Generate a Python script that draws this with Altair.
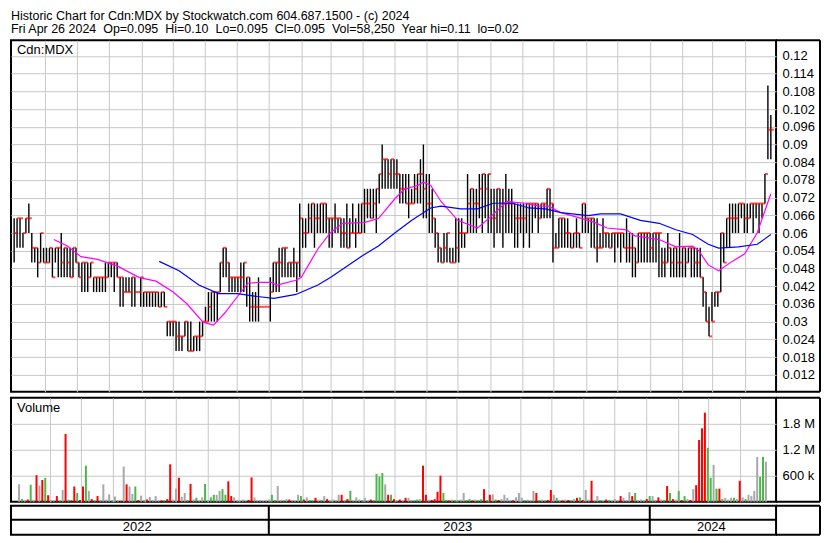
import altair as alt
import pandas as pd

FONT = "Liberation Sans"
GRID = "#c8c8c8"

TITLE_LINE1 = "Historic Chart for Cdn:MDX by Stockwatch.com 604.687.1500 - (c) 2024"
TITLE_LINE2 = ("Fri Apr 26 2024\u00a0\u00a0Op=0.095\u00a0\u00a0Hi=0.10\u00a0\u00a0Lo=0.095"
               "\u00a0\u00a0Cl=0.095\u00a0\u00a0Vol=58,250\u00a0\u00a0Year hi=0.11\u00a0\u00a0lo=0.02")

FIRST_BAR = "2022-05-02"
LAST_BAR = "2024-04-26"

# price bars, in thousandths of a dollar (one entry per ~2 trading days)
HI = [65,65,65,60,65,70,60,55,55,60, 55,55,55,55,55,55,60,55,55,55,
      55,55,50,50,50,50,50,45,45,45, 45,50,50,50,50,50,45,45,45,45,
      45,45,40,45,40,40,40,40,40,40, 40,40,30,30,30,30,30,25,30,30,
      30,25,25,30,30,35,40,40,40,40, 50,55,55,50,45,45,45,50,50,45,
      45,40,40,45,35,35,35,45,50,50, 55,55,55,50,50,55,50,70,65,65,
      70,70,70,70,70,70,70,65,65,70, 65,65,65,70,65,70,65,70,70,75,
      75,75,75,75,80,90,85,85,85,85, 85,80,80,80,80,75,80,80,85,90,
      80,80,75,65,60,55,60,60,55,55, 65,65,65,60,80,75,75,75,80,80,
      80,80,75,75,75,75,75,80,75,75, 70,70,70,70,70,70,70,70,70,70,
      70,75,75,70,60,65,65,65,65,60, 60,65,60,70,70,65,65,65,65,60,
      65,60,60,60,60,60,60,60,65,60, 60,55,60,60,60,60,60,60,60,60,
      55,55,60,55,55,55,60,55,55,55, 55,55,55,55,45,40,35,40,40,40,
      60,60,65,70,70,70,70,70,70,70, 70,70,70,70,70,80,110,100]
LO = [50,55,55,55,60,60,50,50,45,50, 50,50,50,45,50,45,45,45,45,45,
      45,50,45,40,40,40,45,40,40,40, 40,40,45,45,40,45,35,35,40,40,
      35,35,40,35,35,35,35,35,35,35, 35,35,25,25,25,20,20,20,25,20,
      20,20,20,20,25,30,30,30,30,30, 40,45,45,40,40,40,40,40,40,35,
      30,30,30,30,35,35,35,30,40,40, 40,45,45,45,45,45,40,45,55,55,
      60,60,55,60,60,60,60,55,55,60, 60,55,55,55,55,60,55,60,60,60,
      65,65,65,60,70,75,75,75,75,75, 75,70,70,70,65,70,70,70,70,65,
      65,60,60,55,50,50,50,50,50,50, 50,50,55,55,60,60,60,60,65,60,
      65,60,60,55,60,60,55,60,60,60, 55,55,60,55,60,55,60,65,60,65,
      65,65,65,50,55,55,55,55,55,55, 55,55,55,60,60,60,55,55,50,55,
      55,55,55,55,50,55,50,55,50,50, 45,45,50,50,50,50,50,50,50,45,
      45,45,50,45,45,45,45,45,45,50, 45,45,45,45,35,30,25,30,35,35,
      40,50,55,55,60,60,60,65,60,60, 65,60,65,60,65,70,85,85]
CL = [60,65,65,60,65,65,55,55,50,60, 50,50,55,45,55,55,50,55,50,45,
      55,50,45,50,50,45,50,45,45,45, 45,45,50,50,50,45,45,40,40,40,
      45,40,40,45,40,40,40,40,40,35, 40,35,30,30,30,25,25,25,30,20,
      20,25,25,25,30,30,35,40,40,40, 50,55,50,45,45,45,45,45,50,45,
      35,35,35,35,35,35,35,40,50,50, 50,55,55,50,50,50,50,65,60,60,
      65,70,65,65,70,70,65,65,65,65, 65,60,60,55,60,60,60,60,70,70,
      70,65,70,75,80,85,85,80,85,80, 80,75,75,70,70,70,75,80,80,75,
      70,70,65,60,55,50,55,60,50,50, 55,60,60,60,70,75,70,70,75,80,
      75,80,65,65,75,70,70,70,70,70, 65,65,65,65,70,70,70,70,65,70,
      70,75,70,55,55,65,65,60,60,55, 60,60,55,70,65,65,65,55,55,55,
      60,60,55,60,60,60,60,55,55,55, 55,50,60,60,60,60,55,60,60,60,
      50,50,55,50,55,50,50,55,50,55, 55,50,50,45,40,30,25,30,40,40,
      60,50,65,65,65,65,70,70,65,65, 70,70,70,70,70,80,95,95]
# volume, thousands of shares
VOL_K = [400,60,30,50,390,40,610,370,500,550, 150,40,20,130,30,270,1560,50,30,350,
         200,40,350,830,250,60,30,130,40,400, 50,170,30,120,40,20,810,400,350,180,
         350,40,140,30,50,110,40,130,20,30, 40,60,860,50,300,550,110,200,40,410,
         50,90,30,100,410,40,100,160,160,250, 290,160,470,130,100,40,30,50,20,40,
         560,100,30,40,20,30,50,160,40,360, 40,30,60,50,40,30,160,130,50,100,
         40,30,90,50,40,130,60,30,50,40, 160,160,40,60,250,30,100,50,40,90,
         30,50,40,640,580,660,400,160,160,60, 40,50,30,90,90,40,30,50,60,830,
         160,50,40,60,230,600,200,40,30,50, 40,30,50,200,40,60,30,50,40,60,
         290,40,160,170,50,40,60,160,90,40, 30,100,200,90,40,50,30,250,200,40,
         50,30,40,270,160,90,40,30,50,40, 30,60,90,100,40,270,50,480,40,130,
         40,30,50,40,30,60,40,130,90,40, 220,130,200,40,50,30,60,130,130,40,
         100,50,40,360,200,60,50,250,40,130, 60,40,290,380,1420,1690,2050,1240,550,850,
         300,300,60,90,50,90,90,60,480,100, 60,160,130,250,1030,570,1030,920]

# moving averages (thousandths)
PINK_DATES = ["2022-06-09","2022-06-22","2022-07-05","2022-07-21","2022-08-09","2022-08-30",
              "2022-09-15","2022-10-01","2022-10-14","2022-10-30","2022-11-09","2022-11-20",
              "2022-12-02","2022-12-12","2022-12-23","2023-01-03","2023-01-09","2023-01-27",
              "2023-02-01","2023-02-17","2023-03-01","2023-03-13","2023-04-03","2023-04-16",
              "2023-05-02","2023-05-11","2023-05-24","2023-05-29","2023-06-05","2023-06-15",
              "2023-07-01","2023-07-20","2023-08-01","2023-08-17","2023-09-04","2023-09-17",
              "2023-09-26","2023-10-08","2023-10-24","2023-11-09","2023-11-21","2023-12-10",
              "2023-12-17","2024-01-10","2024-01-26","2024-02-11","2024-02-17","2024-02-26",
              "2024-03-07","2024-03-20","2024-04-01","2024-04-13","2024-04-26"]
PINK = [57.8,55.6,52.0,51.1,48.8,44.9,43.7,40.1,36.2,29.8,28.8,33.0,38.5,43.0,43.3,
        43.3,42.4,44.0,44.9,54.6,60.1,63.3,63.6,64.9,71.7,74.9,76.2,77.2,76.2,70.7,
        64.3,61.7,65.3,70.7,70.1,69.1,69.1,66.9,65.3,63.6,61.7,61.1,59.1,
        57.8,55.3,55.6,54.0,49.2,47.2,50.4,53.0,60.1,73.3]
BLUE_DATES = ["2022-09-18","2022-10-07","2022-10-26","2022-11-14","2022-12-02","2022-12-21",
              "2023-01-06","2023-01-27","2023-02-17","2023-03-01","2023-04-01","2023-04-16",
              "2023-05-02","2023-05-18","2023-06-05","2023-06-15","2023-07-04","2023-07-20",
              "2023-08-04","2023-08-23","2023-09-07","2023-09-23","2023-10-08","2023-11-03",
              "2023-11-15","2023-12-04","2023-12-23","2024-01-10","2024-01-26","2024-02-11",
              "2024-02-26","2024-03-07","2024-03-26","2024-04-13","2024-04-26"]
BLUE = [50.4,47.2,42.4,39.5,39.5,38.5,37.9,39.2,42.4,44.9,52.4,55.6,60.1,64.3,68.5,
        69.1,68.2,68.2,70.1,70.1,68.5,68.2,66.9,65.9,66.5,66.5,64.3,
        63.3,61.1,59.5,56.2,54.9,55.3,56.2,59.5]

PRICE_TICKS = [0.012,0.018,0.024,0.03,0.036,0.042,0.048,0.054,0.06,0.066,
               0.072,0.078,0.084,0.09,0.096,0.102,0.108,0.114,0.12]
VOL_TICKS = [600000, 1200000, 1800000]
# month gridline positions (year, month)
MONTH_GRID = [(2022, 6), (2022, 7), (2022, 8), (2022, 9), (2022, 10), (2022, 11), (2022, 12),
              (2023, 1), (2023, 2), (2023, 3), (2023, 4), (2023, 5), (2023, 6), (2023, 7),
              (2023, 8), (2023, 9), (2023, 10), (2023, 11), (2023, 12), (2024, 1), (2024, 2),
              (2024, 3), (2024, 4)]
YEAR_STARTS = ["2023-01-01", "2024-01-01"]
YEAR_LABELS = ["2022", "2023", "2024"]
YEAR_LABEL_DATES = ["2022-08-28", "2023-07-01", "2024-02-29"]

# ---------------------------------------------------------------- tables
dates = pd.date_range(FIRST_BAR, LAST_BAR, periods=len(HI))
bars = pd.DataFrame({
    "date": dates,
    "hi": [v / 1000 for v in HI],
    "lo": [v / 1000 for v in LO],
    "cl": [v / 1000 for v in CL],
    "vol": [v * 1000 for v in VOL_K],
})
prev = [CL[0]] + CL[:-1]
bars["dir"] = ["up" if c > p else ("down" if c < p else "flat") for c, p in zip(CL, prev)]

pink = pd.DataFrame({"date": pd.to_datetime(PINK_DATES), "v": [v / 1000 for v in PINK]})
blue = pd.DataFrame({"date": pd.to_datetime(BLUE_DATES), "v": [v / 1000 for v in BLUE]})

XSCALE = alt.Scale(domain=[alt.DateTime(year=2022, month=4, date=29),
                           alt.DateTime(year=2024, month=5, date=1)])
XAXIS = alt.Axis(title=None, labels=False, ticks=False, domain=False, grid=True,
                 gridColor=GRID, gridWidth=1, gridOpacity=1,
                 values=[alt.DateTime(year=y, month=m, date=1) for y, m in MONTH_GRID])
PSCALE = alt.Scale(domain=[0.0062, 0.1253], nice=False, zero=False)
PAXIS = alt.Axis(title=None, orient="right", values=PRICE_TICKS, format=".3~f",
                 ticks=False, domain=False, grid=True, gridColor=GRID, gridOpacity=1,
                 labelFont=FONT, labelFontSize=13, labelColor="black", labelPadding=6)
VSCALE = alt.Scale(domain=[0, 2390000], nice=False)
VAXIS = alt.Axis(title=None, orient="right", values=VOL_TICKS, ticks=False, domain=False,
                 grid=True, gridColor=GRID, gridOpacity=1, labelFont=FONT, labelFontSize=13,
                 labelColor="black", labelPadding=6,
                 labelExpr="datum.value >= 1000000 ? format(datum.value/1000000, '.1f') + ' M' : format(datum.value/1000, 'd') + ' k'")

W = 766          # plot width
COL = 44         # width of the label column drawn to the right of each panel
H_HEAD, H_PRICE, H_VOL, H_BAND = 26, 352, 104, 29
ONE = pd.DataFrame({"k": [0]})


def px():
    return alt.X("date:T", scale=XSCALE, axis=XAXIS)


def py(field):
    return alt.Y(f"{field}:Q", scale=PSCALE, axis=PAXIS)


def column_frame(h):
    """Black frame lines around the label column on the right of a panel."""
    return [
        alt.Chart(ONE).mark_rule(color="black", strokeWidth=2).encode(
            x=alt.value(W + COL), y=alt.value(0), y2=alt.value(h)),
        alt.Chart(ONE).mark_rule(color="black", strokeWidth=2).encode(
            x=alt.value(W), x2=alt.value(W + COL), y=alt.value(0)),
        alt.Chart(ONE).mark_rule(color="black", strokeWidth=2).encode(
            x=alt.value(W), x2=alt.value(W + COL), y=alt.value(h)),
    ]


# ---------------------------------------------------------------- header
header_df = pd.DataFrame({"row": ["a", "b"], "t": [TITLE_LINE1, TITLE_LINE2]})
header = alt.Chart(header_df).mark_text(
    align="left", baseline="middle", font=FONT, fontSize=12.5, color="black"
).encode(
    x=alt.value(0),
    y=alt.Y("row:N", axis=None, scale=alt.Scale(paddingInner=0, paddingOuter=0)),
    text="t:N",
).properties(width=W, height=H_HEAD, view=alt.ViewBackground(stroke="transparent"))

# ---------------------------------------------------------------- price panel
hilo = alt.Chart(bars).mark_rule(color="black", strokeWidth=1.4).encode(
    x=px(), y=py("lo"), y2="hi:Q")
close_tick = alt.Chart(bars).mark_tick(
    orient="horizontal", color="#ff0000", size=3, thickness=2, xOffset=1.5
).encode(x=px(), y=py("cl"))
pink_line = alt.Chart(pink).mark_line(color="#ff00ff", strokeWidth=1.2).encode(x=px(), y=py("v"))
blue_line = alt.Chart(blue).mark_line(color="#0000ff", strokeWidth=1.2).encode(x=px(), y=py("v"))
sym_label = alt.Chart(pd.DataFrame({"t": ["Cdn:MDX"]})).mark_text(
    align="left", baseline="top", font=FONT, fontSize=13, color="black"
).encode(x=alt.value(6), y=alt.value(4), text="t:N")

price = alt.layer(hilo, close_tick, pink_line, blue_line, sym_label,
                  *column_frame(H_PRICE)).properties(width=W, height=H_PRICE)

# ---------------------------------------------------------------- volume panel
vol_bars = alt.Chart(bars).mark_bar(size=2).encode(
    x=px(),
    y=alt.Y("vol:Q", scale=VSCALE, axis=VAXIS),
    color=alt.Color("dir:N", scale=alt.Scale(domain=["up", "down", "flat"],
                                             range=["#4cb84c", "#ff0000", "#a8a8a8"]),
                    legend=None),
)
vol_label = alt.Chart(pd.DataFrame({"t": ["Volume"]})).mark_text(
    align="left", baseline="top", font=FONT, fontSize=13, color="black"
).encode(x=alt.value(6), y=alt.value(4), text="t:N")
volume = alt.layer(vol_bars, vol_label, *column_frame(H_VOL)).properties(width=W, height=H_VOL)

# ---------------------------------------------------------------- year band
year_df = pd.DataFrame({"date": pd.to_datetime(YEAR_STARTS)})
label_df = pd.DataFrame({"date": pd.to_datetime(YEAR_LABEL_DATES), "t": YEAR_LABELS})
band_x = alt.X("date:T", scale=XSCALE, axis=None)
year_rules = alt.Chart(year_df).mark_rule(color="black", strokeWidth=2).encode(x=band_x)
row_rule = alt.Chart(ONE).mark_rule(color="black", strokeWidth=2).encode(y=alt.value(14))
year_text = alt.Chart(label_df).mark_text(
    font=FONT, fontSize=13, color="black", baseline="middle"
).encode(x=band_x, y=alt.value(21.5), text="t:N")
band = alt.layer(year_rules, row_rule, year_text, *column_frame(H_BAND)).properties(
    width=W, height=H_BAND)

chart = alt.vconcat(
    alt.vconcat(header, price, volume, spacing=2),
    band,
    spacing=0,
).properties(
    padding={"left": 1, "top": 0, "right": 0, "bottom": 0},
    background="white",
).configure_view(stroke="black", strokeWidth=2)

chart.save("out.html", embed_options={"renderer": "svg", "actions": False})
